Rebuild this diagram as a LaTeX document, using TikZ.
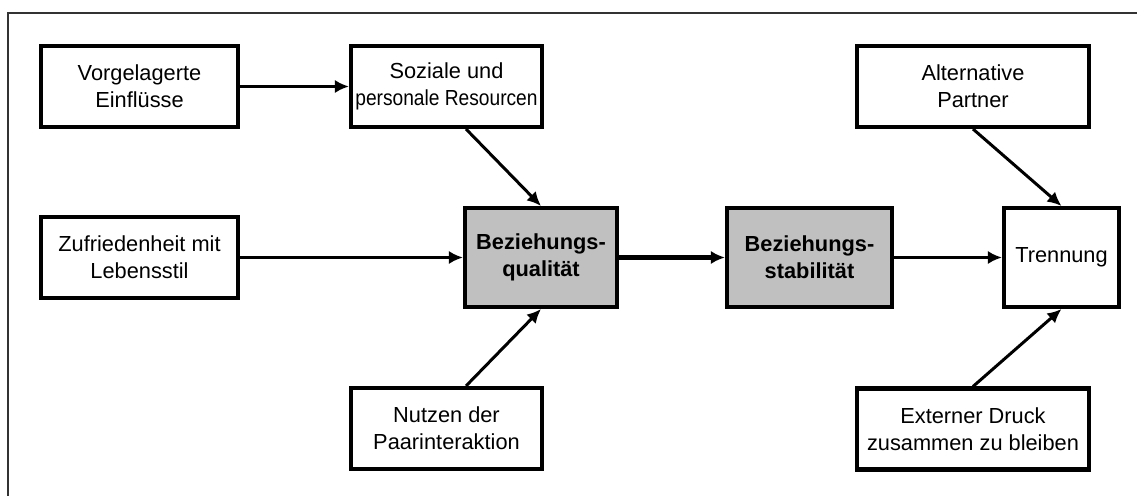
\documentclass[tikz,border=0pt]{standalone}
\usepackage{fontspec}
\setmainfont{Liberation Sans}
\usetikzlibrary{arrows.meta, positioning, calc}
\definecolor{boxgray}{HTML}{C0C0C0}
\tikzset{
    block/.style={draw, line width=2.3pt, align=center, inner sep=0pt,
      minimum height=1.62cm, font=\fontsize{12.4}{15.5}\selectfont},
    core/.style={block, fill=boxgray, minimum height=1.98cm,
      font=\fontsize{12.4}{15.5}\selectfont\bfseries},
    link/.style={-{Latex[length=8pt,width=7.5pt]}, line width=1.7pt},
}

\begin{document}
\begin{tikzpicture}[x=0.02cm, y=-0.02cm]
    \useasboundingbox (0,0) rectangle (1137,496);
    \draw[line width=1pt, black!80] (8,496) -- (8,13) -- (1137,13);

    \node[block, minimum width=3.94cm] (vorg) at (139.5,86.5) {Vorgelagerte\\Einflüsse};
    \node[block, minimum width=3.82cm] (soz) at (446.5,86.5) {Soziale und\\\scalebox{0.88}[1]{personale Resourcen}};
    \node[block, minimum width=3.94cm] (zuf) at (139.5,257.5) {Zufriedenheit mit\\Lebensstil};
    \node[block, minimum width=3.82cm] (nutz) at (446.5,428.5) {Nutzen der\\Paarinteraktion};

    \node[core, minimum width=3.04cm] (qual) at (541,257.5) {Beziehungs-\\qualität};
    \node[core, minimum width=3.30cm] (stab) at (809.5,257.5) {Beziehungs-\\stabilität};

    \node[block, minimum width=2.30cm, minimum height=1.98cm] (tren) at (1061.5,257.5) {Trennung};
    \node[block, minimum width=4.64cm] (alt) at (973,86.5) {Alternative\\Partner};
    \node[block, minimum width=4.64cm] (ext) at (973,429) {Externer Druck\\zusammen zu bleiben};

    \draw[link] (vorg) -- (soz);
    \draw[link] ($(soz.south west)!0.6!(soz.south east)$) -- (qual.north);
    \draw[link] (zuf) -- (qual);
    \draw[link] ($(nutz.north west)!0.6!(nutz.north east)$) -- (qual.south);
    \draw[link, line width=2.3pt] (qual) -- (stab);
    \draw[link] (stab) -- (tren);
    \draw[link] (alt.south) -- (tren.north);
    \draw[link] (ext.north) -- (tren.south);
\end{tikzpicture}
\end{document}
